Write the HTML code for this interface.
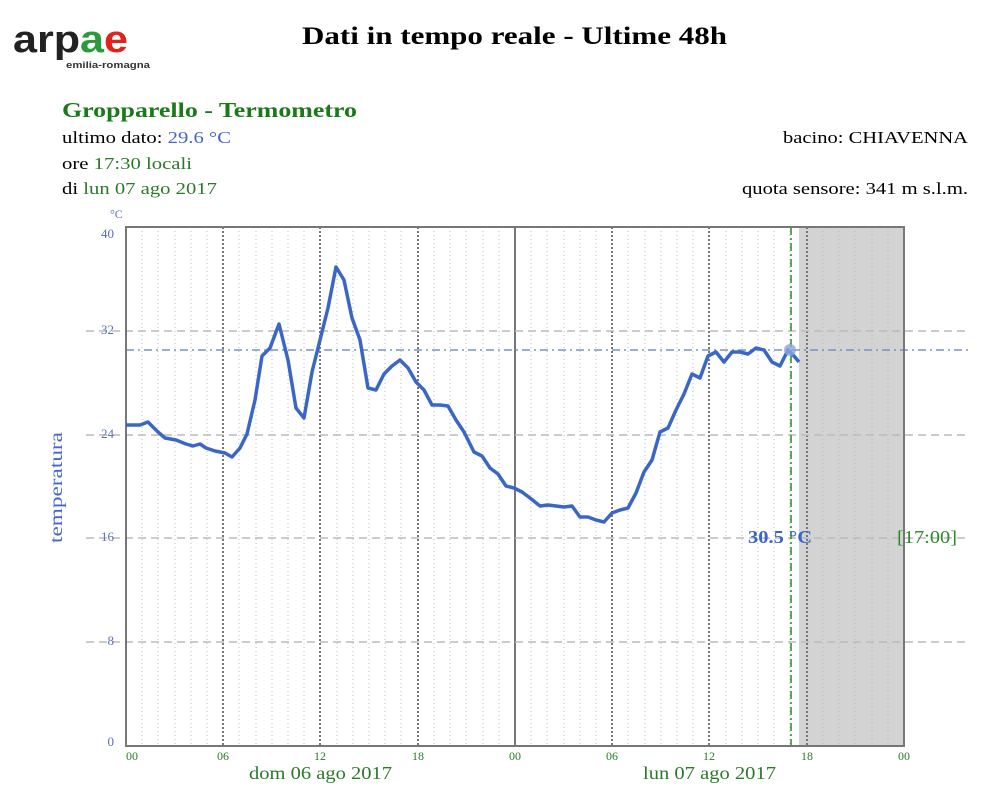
<!DOCTYPE html>
<html><head><meta charset="utf-8"><style>
body{margin:0;background:#fff;width:994px;height:801px;overflow:hidden;font-family:"Liberation Serif",serif}
</style></head><body>
<svg width="994" height="801" xmlns="http://www.w3.org/2000/svg" font-family="Liberation Serif, serif">
<text x="13" y="52" font-family="Liberation Sans, sans-serif" font-weight="bold" font-size="38" fill="#222" textLength="115" lengthAdjust="spacingAndGlyphs">arp<tspan fill="#2a9a3a">a</tspan><tspan fill="#e2231a">e</tspan></text>
<text x="66" y="68" font-family="Liberation Sans, sans-serif" font-weight="bold" font-size="9.5" fill="#333" textLength="84" lengthAdjust="spacingAndGlyphs">emilia-romagna</text>
<text x="302" y="44" font-size="25" font-weight="bold" fill="#000" textLength="425" lengthAdjust="spacingAndGlyphs">Dati in tempo reale - Ultime 48h</text>
<text x="62" y="117" font-size="21" font-weight="bold" fill="#1a7a1a" textLength="295" lengthAdjust="spacingAndGlyphs">Gropparello - Termometro</text>
<text x="62" y="143" font-size="17" fill="#000" textLength="169" lengthAdjust="spacingAndGlyphs">ultimo dato: <tspan fill="#4466cc">29.6 °C</tspan></text>
<text x="62" y="169" font-size="17" fill="#000" textLength="130" lengthAdjust="spacingAndGlyphs">ore <tspan fill="#2a7a2a">17:30 locali</tspan></text>
<text x="62" y="194" font-size="17" fill="#000" textLength="155" lengthAdjust="spacingAndGlyphs">di <tspan fill="#2a7a2a">lun 07 ago 2017</tspan></text>
<text x="783" y="143" font-size="17" fill="#000" textLength="185" lengthAdjust="spacingAndGlyphs">bacino: CHIAVENNA</text>
<text x="742" y="194" font-size="17" fill="#000" textLength="226" lengthAdjust="spacingAndGlyphs">quota sensore: 341 m s.l.m.</text>
<rect x="799" y="227" width="105" height="519" fill="#d3d3d3"/>
<g stroke="#bbb" stroke-width="1" stroke-dasharray="1,3">
<line x1="142" y1="227" x2="142" y2="746"/><line x1="158" y1="227" x2="158" y2="746"/><line x1="175" y1="227" x2="175" y2="746"/><line x1="191" y1="227" x2="191" y2="746"/><line x1="207" y1="227" x2="207" y2="746"/>
<line x1="239" y1="227" x2="239" y2="746"/><line x1="256" y1="227" x2="256" y2="746"/><line x1="272" y1="227" x2="272" y2="746"/><line x1="288" y1="227" x2="288" y2="746"/><line x1="304" y1="227" x2="304" y2="746"/>
<line x1="337" y1="227" x2="337" y2="746"/><line x1="353" y1="227" x2="353" y2="746"/><line x1="369" y1="227" x2="369" y2="746"/><line x1="385" y1="227" x2="385" y2="746"/><line x1="401" y1="227" x2="401" y2="746"/>
<line x1="434" y1="227" x2="434" y2="746"/><line x1="450" y1="227" x2="450" y2="746"/><line x1="466" y1="227" x2="466" y2="746"/><line x1="483" y1="227" x2="483" y2="746"/><line x1="499" y1="227" x2="499" y2="746"/>
<line x1="531" y1="227" x2="531" y2="746"/><line x1="547" y1="227" x2="547" y2="746"/><line x1="564" y1="227" x2="564" y2="746"/><line x1="580" y1="227" x2="580" y2="746"/><line x1="596" y1="227" x2="596" y2="746"/>
<line x1="628" y1="227" x2="628" y2="746"/><line x1="645" y1="227" x2="645" y2="746"/><line x1="661" y1="227" x2="661" y2="746"/><line x1="677" y1="227" x2="677" y2="746"/><line x1="693" y1="227" x2="693" y2="746"/>
<line x1="726" y1="227" x2="726" y2="746"/><line x1="742" y1="227" x2="742" y2="746"/><line x1="758" y1="227" x2="758" y2="746"/><line x1="774" y1="227" x2="774" y2="746"/><line x1="790" y1="227" x2="790" y2="746"/>
<line x1="823" y1="227" x2="823" y2="746"/><line x1="839" y1="227" x2="839" y2="746"/><line x1="855" y1="227" x2="855" y2="746"/><line x1="872" y1="227" x2="872" y2="746"/><line x1="888" y1="227" x2="888" y2="746"/>
</g>
<g stroke="#777" stroke-width="2" stroke-dasharray="2,2">
<line x1="223" y1="227" x2="223" y2="746"/><line x1="320" y1="227" x2="320" y2="746"/><line x1="418" y1="227" x2="418" y2="746"/><line x1="612" y1="227" x2="612" y2="746"/><line x1="709" y1="227" x2="709" y2="746"/><line x1="807" y1="227" x2="807" y2="746"/>
</g>
<line x1="515" y1="227" x2="515" y2="746" stroke="#777" stroke-width="2"/>
<g stroke="#bbb" stroke-width="1.5" stroke-dasharray="8,5">
<line x1="86" y1="331" x2="970" y2="331"/><line x1="86" y1="435" x2="970" y2="435"/><line x1="86" y1="538" x2="970" y2="538"/><line x1="86" y1="642" x2="970" y2="642"/>
</g>
<line x1="126" y1="350" x2="970" y2="350" stroke="#7a90cc" stroke-width="1.5" stroke-dasharray="8,4,2,4"/>
<line x1="791" y1="227" x2="791" y2="746" stroke="#2a8a2a" stroke-width="1.5" stroke-dasharray="8,3,2,3"/>
<rect x="126" y="227" width="778" height="519" fill="none" stroke="#777" stroke-width="2"/>
<polyline fill="none" stroke="#3a66c8" stroke-width="3.5" stroke-linejoin="round" points="126,425 140,425 148,422 158,432 165,438 176,440 186,444 193,446 200,444 206,448 215,451 225,453 232,457 240,448 247,434 255,400 262,356 270,348 279,324 288,360 296,408 304,418 312,372 320,340 328,308 336,267 344,280 352,318 360,340 368,388 376,390 384,374 392,366 400,360 408,368 416,382 424,390 432,405 440,405 448,406 456,420 464,432 474,452 482,456 490,468 498,474 506,486 514,488 522,492 530,498 540,506 548,505 556,506 564,507 572,506 580,517 588,517 596,520 604,522 612,513 620,510 628,508 636,493 644,472 652,460 660,432 668,428 676,410 684,394 692,374 700,378 708,356 716,352 724,362 732,352 740,352 748,354 756,348 764,350 772,362 780,366 788,350 794,356 799,362"/>
<circle cx="790" cy="350" r="6" fill="#8aa6e0" opacity="0.8"/>
<text x="748" y="543" font-size="18" font-weight="bold" fill="#3a66c8" textLength="64" lengthAdjust="spacingAndGlyphs">30.5 °C</text>
<text x="897" y="543" font-size="18" fill="#2a8a2a" textLength="60" lengthAdjust="spacingAndGlyphs">[17:00]</text>
<g font-size="13" fill="#5a70b8" text-anchor="end">
<text x="114" y="238">40</text><text x="114" y="334">32</text><text x="114" y="438">24</text><text x="114" y="541">16</text><text x="114" y="645">8</text><text x="114" y="746">0</text>
</g>
<text x="110" y="218" font-size="12" fill="#5a70b8">°C</text>
<text transform="translate(62,543) rotate(-90)" font-size="18" fill="#4466cc" textLength="111" lengthAdjust="spacingAndGlyphs">temperatura</text>
<g font-size="12" fill="#2a7a2a" text-anchor="middle">
<text x="132" y="760">00</text><text x="223" y="760">06</text><text x="320" y="760">12</text><text x="418" y="760">18</text><text x="515" y="760">00</text><text x="612" y="760">06</text><text x="709" y="760">12</text><text x="807" y="760">18</text><text x="904" y="760">00</text>
</g>
<text x="249" y="779" font-size="18" fill="#2a7a2a" textLength="143" lengthAdjust="spacingAndGlyphs">dom 06 ago 2017</text>
<text x="643" y="779" font-size="18" fill="#2a7a2a" textLength="133" lengthAdjust="spacingAndGlyphs">lun 07 ago 2017</text>
</svg>
</body></html>
